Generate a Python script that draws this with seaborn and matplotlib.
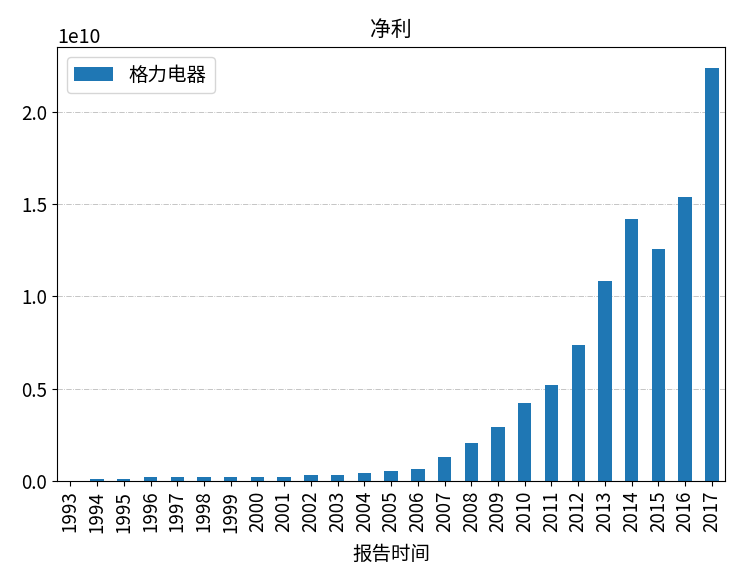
import numpy as np
import pandas as pd
import seaborn as sns
import matplotlib.pyplot as plt

years = [str(y) for y in range(1993, 2018)]
net_profit = [0.02e9, 0.11e9, 0.11e9, 0.22e9, 0.22e9, 0.22e9, 0.22e9, 0.22e9,
              0.22e9, 0.33e9, 0.34e9, 0.45e9, 0.56e9, 0.67e9, 1.30e9, 2.06e9,
              2.93e9, 4.23e9, 5.20e9, 7.37e9, 10.84e9, 14.2e9, 12.57e9, 15.4e9,
              22.4e9]
company = "格力电器"

plt.rcParams['font.family'] = ['Noto Sans CJK SC', 'DejaVu Sans']
plt.rcParams['axes.unicode_minus'] = False

df = pd.DataFrame({"报告时间": years, "净利": net_profit, "公司": company})

fig, ax = plt.subplots(figsize=(7.4, 5.88), dpi=100)
fig.subplots_adjust(left=0.077, right=0.980, top=0.920, bottom=0.182)

sns.barplot(data=df, x="报告时间", y="净利", hue="公司", palette=["#1f77b4"],
            width=0.5, saturation=1, ax=ax)

ax.set_xlim(-0.5, len(years) - 0.5)
ax.grid(axis='y', linestyle='-.', linewidth=0.6, color='#bbbbbb')
ax.set_axisbelow(True)
ax.tick_params(axis='x', labelrotation=90, labelsize=13.5)
ax.tick_params(axis='y', labelsize=13.5)
ax.yaxis.get_offset_text().set_fontsize(14)
ax.set_title("净利", fontsize=15, pad=8)
ax.set_xlabel("报告时间", fontsize=14, labelpad=8)
ax.set_ylabel("")
ax.legend(loc="upper left", fontsize=14, title=None)

fig.savefig("out.png", dpi=100)
